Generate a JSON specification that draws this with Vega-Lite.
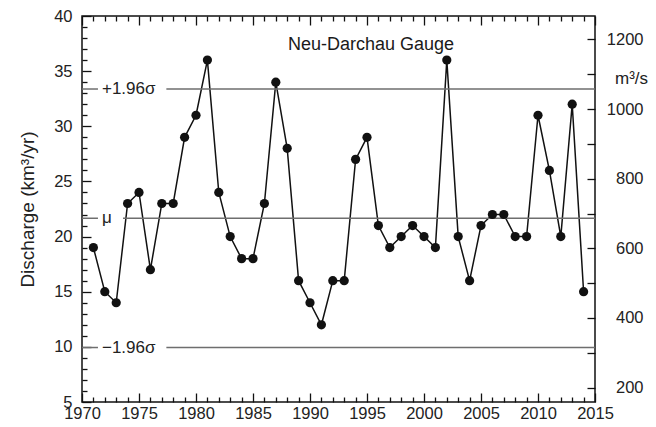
{
  "$schema": "https://vega.github.io/schema/vega-lite/v6.json",
  "width": 513,
  "height": 386,
  "autosize": {"type": "none"},
  "padding": {"left": 82, "top": 16, "right": 61, "bottom": 25},
  "background": "white",
  "config": {
    "view": {"stroke": "#111", "strokeWidth": 1.5},
    "axis": {
      "domain": false,
      "grid": false,
      "labelFont": "Liberation Sans",
      "labelFontSize": 16.5,
      "labelColor": "#222",
      "titleFont": "Liberation Sans",
      "titleFontWeight": "normal",
      "titleColor": "#222",
      "labelFlush": false,
      "labelOverlap": false
    }
  },
  "datasets": {
    "q": [
      {"year": 1971, "discharge": 19}, {"year": 1972, "discharge": 15}, {"year": 1973, "discharge": 14},
      {"year": 1974, "discharge": 23}, {"year": 1975, "discharge": 24}, {"year": 1976, "discharge": 17},
      {"year": 1977, "discharge": 23}, {"year": 1978, "discharge": 23}, {"year": 1979, "discharge": 29},
      {"year": 1980, "discharge": 31}, {"year": 1981, "discharge": 36}, {"year": 1982, "discharge": 24},
      {"year": 1983, "discharge": 20}, {"year": 1984, "discharge": 18}, {"year": 1985, "discharge": 18},
      {"year": 1986, "discharge": 23}, {"year": 1987, "discharge": 34}, {"year": 1988, "discharge": 28},
      {"year": 1989, "discharge": 16}, {"year": 1990, "discharge": 14}, {"year": 1991, "discharge": 12},
      {"year": 1992, "discharge": 16}, {"year": 1993, "discharge": 16}, {"year": 1994, "discharge": 27},
      {"year": 1995, "discharge": 29}, {"year": 1996, "discharge": 21}, {"year": 1997, "discharge": 19},
      {"year": 1998, "discharge": 20}, {"year": 1999, "discharge": 21}, {"year": 2000, "discharge": 20},
      {"year": 2001, "discharge": 19}, {"year": 2002, "discharge": 36}, {"year": 2003, "discharge": 20},
      {"year": 2004, "discharge": 16}, {"year": 2005, "discharge": 21}, {"year": 2006, "discharge": 22},
      {"year": 2007, "discharge": 22}, {"year": 2008, "discharge": 20}, {"year": 2009, "discharge": 20},
      {"year": 2010, "discharge": 31}, {"year": 2011, "discharge": 26}, {"year": 2012, "discharge": 20},
      {"year": 2013, "discharge": 32}, {"year": 2014, "discharge": 15}
    ],
    "refs": [
      {"y": 33.38, "x1": 1970, "x2": 1971.4}, {"y": 33.38, "x1": 1977.4, "x2": 2015},
      {"y": 21.66, "x1": 1970, "x2": 1971.4}, {"y": 21.66, "x1": 1973.6, "x2": 2015},
      {"y": 9.94, "x1": 1970, "x2": 1971.4}, {"y": 9.94, "x1": 1977.4, "x2": 2015}
    ],
    "reflabels": [
      {"label": "+1.96σ", "x": 1971.75, "y": 33.38},
      {"label": "μ", "x": 1971.75, "y": 21.66},
      {"label": "−1.96σ", "x": 1971.75, "y": 9.94}
    ],
    "heading": [{"label": "Neu-Darchau Gauge", "x": 1995.35, "y": 37.33}],
    "rightscale": [{"m3s": 158.44}, {"m3s": 1267.5}]
  },
  "layer": [
    {
      "data": {"name": "q"},
      "mark": {"type": "line", "color": "#111", "strokeWidth": 1.5},
      "encoding": {
        "x": {"field": "year", "type": "quantitative", "scale": {"domain": [1970, 2015], "nice": false, "zero": false},
          "axis": {"orient": "bottom", "values": [1970,1971,1972,1973,1974,1975,1976,1977,1978,1979,1980,1981,1982,1983,1984,1985,1986,1987,1988,1989,1990,1991,1992,1993,1994,1995,1996,1997,1998,1999,2000,2001,2002,2003,2004,2005,2006,2007,2008,2009,2010,2011,2012,2013,2014,2015], "format": "d", "labelExpr": "datum.value % 5 === 0 ? datum.label : ''", "tickSize": {"condition": {"test": "datum.value % 5 === 0", "value": -9}, "value": -5}, "tickColor": "#111", "tickWidth": 1.3, "labelPadding": 12, "title": null}},
        "y": {"field": "discharge", "type": "quantitative", "scale": {"domain": [5, 40], "nice": false, "zero": false},
          "axis": {"orient": "left", "values": [5,6,7,8,9,10,11,12,13,14,15,16,17,18,19,20,21,22,23,24,25,26,27,28,29,30,31,32,33,34,35,36,37,38,39,40], "labelExpr": "datum.value % 5 === 0 ? datum.label : ''", "tickSize": {"condition": {"test": "datum.value % 5 === 0", "value": -9}, "value": -5}, "tickColor": "#111", "tickWidth": 1.3, "labelPadding": 19, "title": "Discharge (km³/yr)", "titleFontSize": 19, "titleX": -55, "titleY": 193, "titleAngle": 270, "titleAlign": "center", "titleBaseline": "middle"}}
      }
    },
    {
      "data": {"name": "q"},
      "mark": {"type": "point", "opacity": 0},
      "encoding": {
        "x": {"field": "year", "type": "quantitative",
          "axis": {"orient": "top", "values": [1970,1971,1972,1973,1974,1975,1976,1977,1978,1979,1980,1981,1982,1983,1984,1985,1986,1987,1988,1989,1990,1991,1992,1993,1994,1995,1996,1997,1998,1999,2000,2001,2002,2003,2004,2005,2006,2007,2008,2009,2010,2011,2012,2013,2014,2015], "labels": false, "tickSize": {"condition": {"test": "datum.value % 5 === 0", "value": -9}, "value": -5}, "tickColor": "#111", "tickWidth": 1.3, "title": null}},
        "y": {"field": "discharge", "type": "quantitative", "scale": {"domain": [5, 40], "nice": false, "zero": false}, "axis": null}
      }
    },
    {
      "data": {"name": "refs"},
      "mark": {"type": "rule", "color": "#6e6e6e", "strokeWidth": 1.5},
      "encoding": {
        "x": {"field": "x1", "type": "quantitative", "axis": null},
        "x2": {"field": "x2"},
        "y": {"field": "y", "type": "quantitative", "scale": {"domain": [5, 40], "nice": false, "zero": false}, "axis": null}
      }
    },
    {
      "data": {"name": "reflabels"},
      "mark": {"type": "text", "align": "left", "baseline": "middle", "font": "Liberation Sans", "fontSize": 17, "color": "#222"},
      "encoding": {
        "x": {"field": "x", "type": "quantitative", "axis": null},
        "y": {"field": "y", "type": "quantitative", "scale": {"domain": [5, 40], "nice": false, "zero": false}, "axis": null},
        "text": {"field": "label"}
      }
    },
    {
      "data": {"name": "heading"},
      "mark": {"type": "text", "align": "center", "baseline": "middle", "font": "Liberation Sans", "fontSize": 18, "color": "#1a1a1a"},
      "encoding": {
        "x": {"field": "x", "type": "quantitative", "axis": null},
        "y": {"field": "y", "type": "quantitative", "scale": {"domain": [5, 40], "nice": false, "zero": false}, "axis": null},
        "text": {"field": "label"}
      }
    },
    {
      "data": {"name": "q"},
      "mark": {"type": "circle", "color": "#111", "opacity": 1, "size": 85},
      "encoding": {
        "x": {"field": "year", "type": "quantitative", "axis": null},
        "y": {"field": "discharge", "type": "quantitative", "scale": {"domain": [5, 40], "nice": false, "zero": false}, "axis": null}
      }
    },
    {
      "data": {"name": "rightscale"},
      "mark": {"type": "point", "opacity": 0},
      "encoding": {
        "x": {"datum": 2015, "type": "quantitative", "axis": null},
        "y": {"field": "m3s", "type": "quantitative", "scale": {"domain": [158.44, 1267.5], "nice": false, "zero": false},
          "axis": {"orient": "right", "values": [200,300,400,500,600,700,800,900,1000,1100,1200], "format": "d", "labelExpr": "datum.value % 200 === 0 ? datum.label : ''", "tickSize": -8, "tickColor": "#111", "tickWidth": 1.3, "labelPadding": 56, "labelAlign": "right", "title": "m³/s", "titleFontSize": 17, "titleAngle": 0, "titleX": 36, "titleY": 62, "titleAlign": "center", "titleBaseline": "middle"}}
      }
    }
  ],
  "resolve": {"scale": {"y": "independent"}, "axis": {"x": "independent", "y": "independent"}}
}
